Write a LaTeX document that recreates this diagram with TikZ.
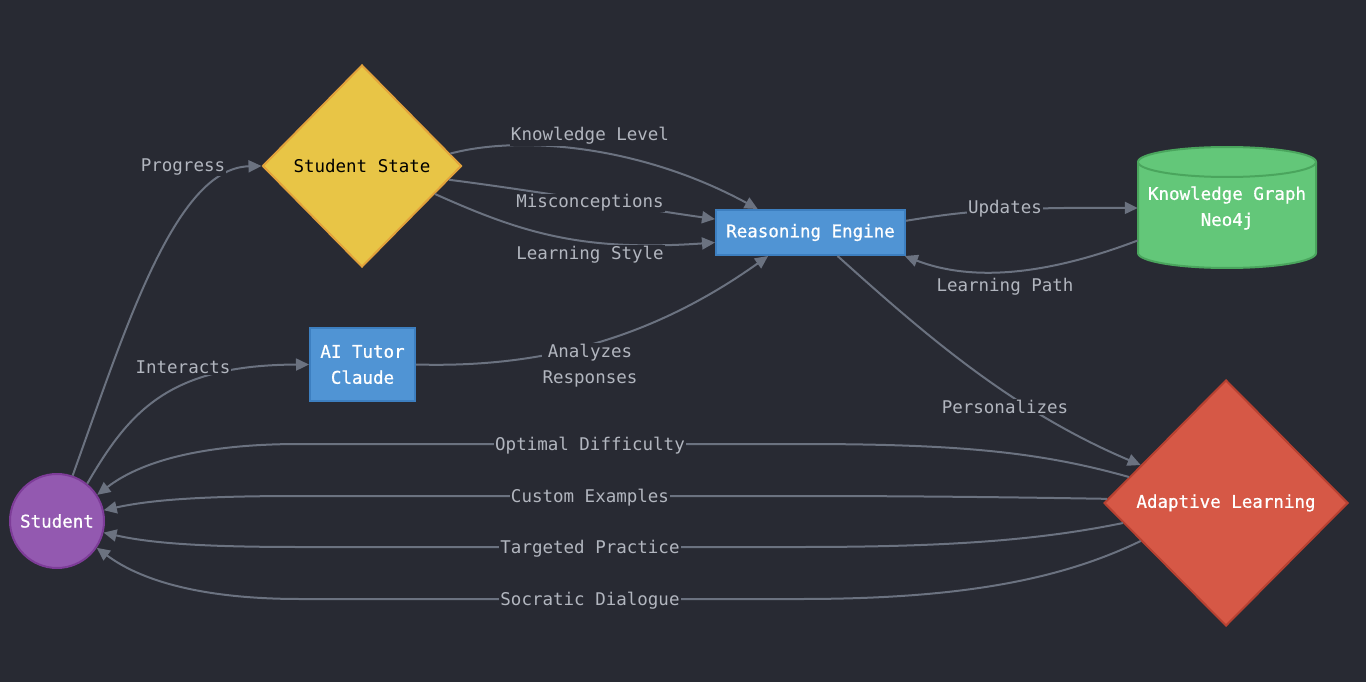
\documentclass[tikz,border=0pt]{standalone}
\usepackage{fontspec}
\setmainfont{DejaVu Sans Mono}
\setmonofont{DejaVu Sans Mono}
\newfontfamily\semibfont[FakeBold=0.8]{DejaVu Sans Mono}
\usetikzlibrary{shapes.geometric,arrows.meta}
\definecolor{bg}{RGB}{40,42,51}
\definecolor{edgec}{RGB}{107,114,128}
\definecolor{lblc}{RGB}{178,182,191}
\definecolor{purplef}{RGB}{147,89,176}
\definecolor{purpleb}{RGB}{125,60,152}
\definecolor{yellowf}{RGB}{232,197,70}
\definecolor{yellowb}{RGB}{226,162,59}
\definecolor{bluef}{RGB}{80,148,212}
\definecolor{blueb}{RGB}{61,127,192}
\definecolor{greenf}{RGB}{99,199,121}
\definecolor{greenb}{RGB}{74,165,93}
\definecolor{redf}{RGB}{214,88,70}
\definecolor{redb}{RGB}{184,65,49}
\tikzset{
  txt/.style={font=\fontsize{17.5}{26}\selectfont},
  wtxt/.style={font=\semibfont\fontsize{17.5}{26}\selectfont, text=white},
  edge/.style={draw=edgec, line width=2pt, -{Triangle[length=13pt,width=12pt]}},
  lbl/.style={txt, fill=bg, text=lblc, inner sep=1pt, align=center, yshift=-2pt},
  box/.style={rectangle, line width=2pt, inner sep=0pt, align=center},
}
\begin{document}
\begin{tikzpicture}[x=1pt,y=-1pt]
\fill[bg] (0,0) rectangle (1366,682);
\useasboundingbox (0,0) rectangle (1366,682);

% nodes
\node[circle, draw=purpleb, fill=purplef, line width=2pt, minimum size=94pt, inner sep=0pt, wtxt] (student) at (57,521) {Student};
\node[diamond, draw=yellowb, fill=yellowf, line width=2pt, minimum width=199pt, minimum height=202pt, inner sep=0pt, txt, text=black] (sstate) at (362,166) {Student State};
\node[box, draw=blueb, fill=bluef, minimum width=189pt, minimum height=45pt, wtxt] (re) at (810.5,232.5) {Reasoning Engine};
\node[box, draw=blueb, fill=bluef, minimum width=105pt, minimum height=73pt, wtxt] (ai) at (362.5,364.5) {AI Tutor\\Claude};
\node[diamond, draw=redb, fill=redf, line width=2pt, minimum width=244pt, minimum height=246pt, inner sep=0pt, wtxt] (al) at (1226,503) {Adaptive Learning};

% cylinder
\path[fill=greenf, draw=greenb, line width=2pt] (1138,162) -- (1138,253) arc[start angle=180, end angle=0, x radius=89, y radius=15] -- (1316,162);
\draw[fill=greenf, draw=greenb, line width=2pt] (1227,162) ellipse [x radius=89, y radius=15];
\node[minimum width=178pt, minimum height=121pt, inner sep=0pt, align=center, wtxt] (kg) at (1227,208) {Knowledge Graph\\Neo4j};

% edges
\draw[edge] (student.71) .. controls (125,330) and (175,168) .. (sstate.west);
\draw[edge] (student.51) .. controls (130,410) and (170,365) .. (ai.west);
\draw[edge] (sstate.8) .. controls (520,135) and (640,145) .. (re.156);
\draw[edge] (sstate.351) .. controls (530,190) and (650,210) .. (re.172);
\draw[edge] (sstate.339) .. controls (520,232) and (580,252) .. (re.186);
\draw[edge] (ai.east) .. controls (540,368) and (650,340) .. (re.209);
\draw[edge] (re.7) .. controls (960,212) and (1000,207) .. (kg.west);
\draw[edge] (kg.200) .. controls (1060,270) and (980,285) .. (re.346);
\draw[edge] (re.319) .. controls (920,330) and (1010,410) .. (al.156);
\draw[edge] (al.165) .. controls (1040,452) and (960,444) .. (800,444) -- (300,444) .. controls (200,444) and (140,462) .. (student.33);
\draw[edge] (al.178) .. controls (1000,497) and (900,496) .. (800,496) -- (300,496) .. controls (200,496) and (150,500) .. (student.13);
\draw[edge] (al.191) .. controls (1040,540) and (950,547) .. (800,547) -- (300,547) .. controls (200,547) and (150,543) .. (student.346);
\draw[edge] (al.204) .. controls (1060,580) and (960,599) .. (800,599) -- (300,599) .. controls (200,599) and (140,580) .. (student.326);

% labels
\node[lbl] (lprog) at (183,165) {Progress};
\node[lbl] (linter) at (183,365) {Interacts};
\node[lbl] (lknow) at (590,134) {Knowledge Level};
\node[lbl] (lmisc) at (590,201) {Misconceptions};
\node[lbl] (lstyle) at (590,253) {Learning Style};
\node[lbl] (lana) at (590,364) {Analyzes\\Responses};
\node[lbl] (lupd) at (1005,207) {Updates};
\node[lbl] (lpath) at (1005,285) {Learning Path};
\node[lbl] (lpers) at (1005,405) {Personalizes};
\node[lbl] (lopt) at (590,444) {Optimal Difficulty};
\node[lbl] (lcust) at (590,496) {Custom Examples};
\node[lbl] (ltarg) at (590,547) {Targeted Practice};
\node[lbl] (lsocr) at (590,599) {Socratic Dialogue};
\end{tikzpicture}
\end{document}
